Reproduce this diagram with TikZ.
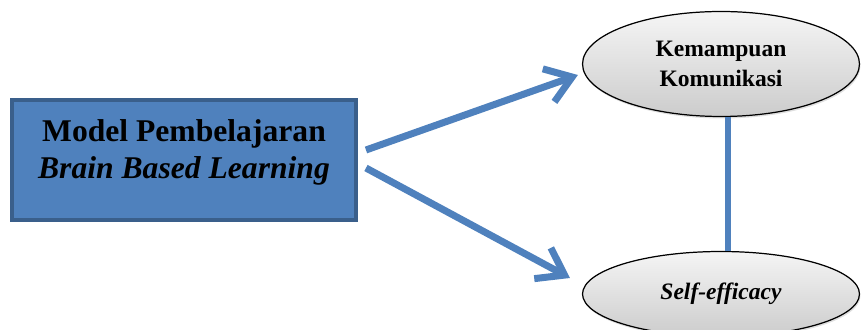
\documentclass[tikz,border=0pt]{standalone}
\usepackage{fontspec}
\setmainfont{Liberation Serif}
\usepackage{tikz}
\usetikzlibrary{arrows.meta,shapes.geometric,shadows}
\definecolor{bbblue}{HTML}{4F81BD}
\definecolor{bbborder}{HTML}{3A5F8B}

\begin{document}
\begin{tikzpicture}[x=0.02cm,y=-0.02cm,
                modelbox/.style={draw=bbborder,line width=0.08cm,fill=bbblue,
                    minimum width=6.88cm,minimum height=2.4cm,
                    drop shadow={opacity=0.25,shadow xshift=0.03cm,shadow yshift=-0.04cm}},
                modeltext/.style={align=center,yshift=0.15cm,
                    font=\fontsize{18}{21.5}\selectfont\bfseries},
                varell/.style={ellipse,draw=black,line width=0.7pt,
                    top color=gray!8,bottom color=gray!40,minimum width=5.54cm,
                    align=center,font=\fontsize{13.4}{17.5}\selectfont\bfseries,
                    drop shadow={opacity=0.25,shadow xshift=0.02cm,shadow yshift=-0.04cm}},
                bigarrow/.style={draw=bbblue,line width=0.14cm,
                    -{Straight Barb[length=0.5cm,width=0.7cm]}},
                link/.style={draw=bbblue,line width=0.12cm}]
                \useasboundingbox (0,0) rectangle (861,330);
                \node[modelbox,label={[modeltext]center:Model Pembelajaran\\ \textit{Brain Based Learning}}] (mdl) at (184,160) {};
                \node[varell,minimum height=2.1cm] (kom) at (721,64) {Kemampuan\\ Komunikasi};
                \node[varell,minimum height=1.7cm] (slf) at (721,294) {\textit{Self-efficacy}};
                % arrows
                \draw[bigarrow] ([shift={(8,-10)}]mdl.east) -- ([shift={(-4,11)}]kom.west);
                \draw[bigarrow] ([shift={(8,8)}]mdl.east) -- ([shift={(-12,-16)}]slf.west);
                \draw[link] ([xshift=4]kom.south) -- ([xshift=4]slf.north);
            \end{tikzpicture}
\end{document}
